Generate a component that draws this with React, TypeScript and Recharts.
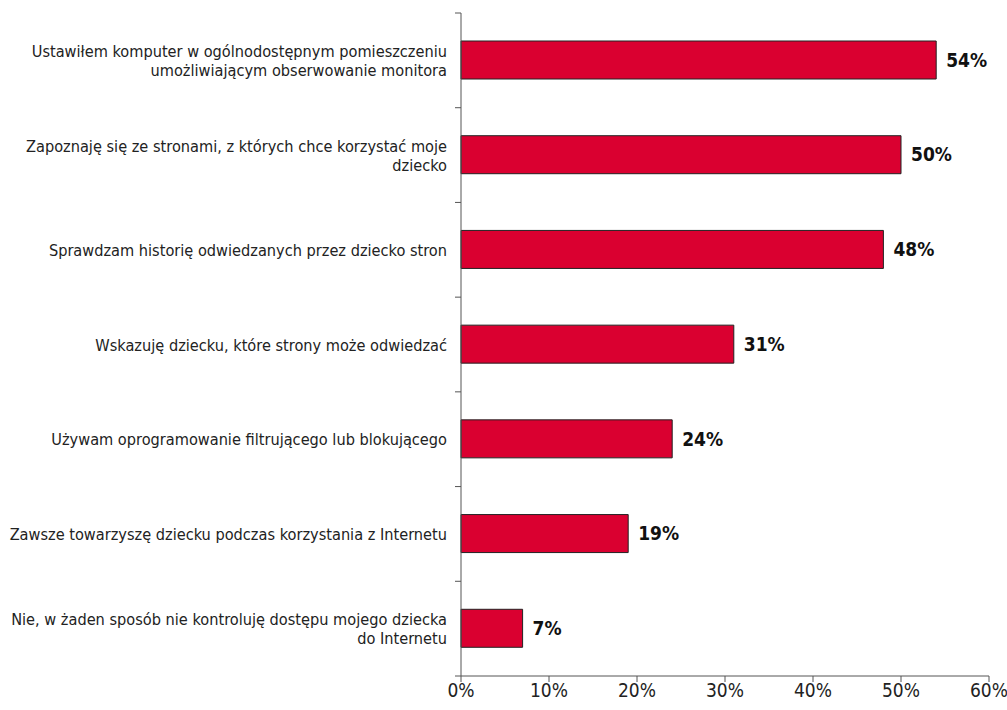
import { BarChart, Bar, XAxis, YAxis, LabelList } from 'recharts'

const categories = [
  'Ustawiłem komputer w ogólnodostępnym pomieszczeniu\numożliwiającym obserwowanie monitora',
  'Zapoznaję się ze stronami, z których chce korzystać moje\ndziecko',
  'Sprawdzam historię odwiedzanych przez dziecko stron',
  'Wskazuję dziecku, które strony może odwiedzać',
  'Używam oprogramowanie filtrującego lub blokującego',
  'Zawsze towarzyszę dziecku podczas korzystania z Internetu',
  'Nie, w żaden sposób nie kontroluję dostępu mojego dziecka\ndo Internetu',
]
const values = [54, 50, 48, 31, 24, 19, 7]
const xTicks = [0, 10, 20, 30, 40, 50, 60]

const data = categories.map((name, i) => ({ name, value: values[i] }))

const FONT = '"DejaVu Sans Condensed", "Liberation Sans", Arial, sans-serif'
const TOP = 13
const BOTTOM = 34
const HEIGHT = 710
const BAND = (HEIGHT - TOP - BOTTOM) / categories.length

function CategoryTick(props: any) {
  const { x, y, payload, index } = props
  const lines = String(payload.value).split('\n')
  const half = payload.offset || BAND / 2
  const lh = 19
  const tx = x + 6
  const startY = y - ((lines.length - 1) * lh) / 2
  return (
    <g>
      {/* tick marks sit on category boundaries, not on band centres */}
      <line x1={x + 14} x2={x + 20} y1={y + half} y2={y + half} stroke="#555" />
      {index === 0 && <line x1={x + 14} x2={x + 20} y1={y - half} y2={y - half} stroke="#555" />}
      <text x={tx} y={startY} textAnchor="end" fontSize={16.2} fill="#222" fontFamily={FONT} dominantBaseline="central">
        {lines.map((l, i) => (
          <tspan key={i} x={tx} dy={i === 0 ? 0 : lh}>{l}</tspan>
        ))}
      </text>
    </g>
  )
}

export default function App() {
  return (
    <div style={{ position: 'absolute', left: 0, top: 0, background: '#fff' }}>
      <BarChart
        width={1007}
        height={HEIGHT}
        data={data}
        layout="vertical"
        margin={{ top: TOP, right: 18, bottom: 4, left: 0 }}
      >
        <XAxis
          type="number"
          domain={[0, 60]}
          ticks={xTicks}
          tickFormatter={(v) => `${v}%`}
          height={30}
          axisLine={{ stroke: '#555' }}
          tickLine={{ stroke: '#555' }}
          tickSize={6}
          tick={{ fill: '#222', fontSize: 19, fontFamily: FONT }}
          interval={0}
        />
        <YAxis
          type="category"
          dataKey="name"
          width={461}
          axisLine={{ stroke: '#555' }}
          tickLine={false}
          tick={<CategoryTick />}
          tickMargin={14}
          interval={0}
        />
        <Bar dataKey="value" fill="#DA0030" stroke="#222" strokeWidth={1} barSize={38} isAnimationActive={false}>
          <LabelList
            dataKey="value"
            position="right"
            offset={10}
            formatter={(v: any) => `${v}%`}
            style={{ fontSize: 19, fontWeight: 'bold', fill: '#111', fontFamily: FONT }}
          />
        </Bar>
      </BarChart>
    </div>
  )
}
